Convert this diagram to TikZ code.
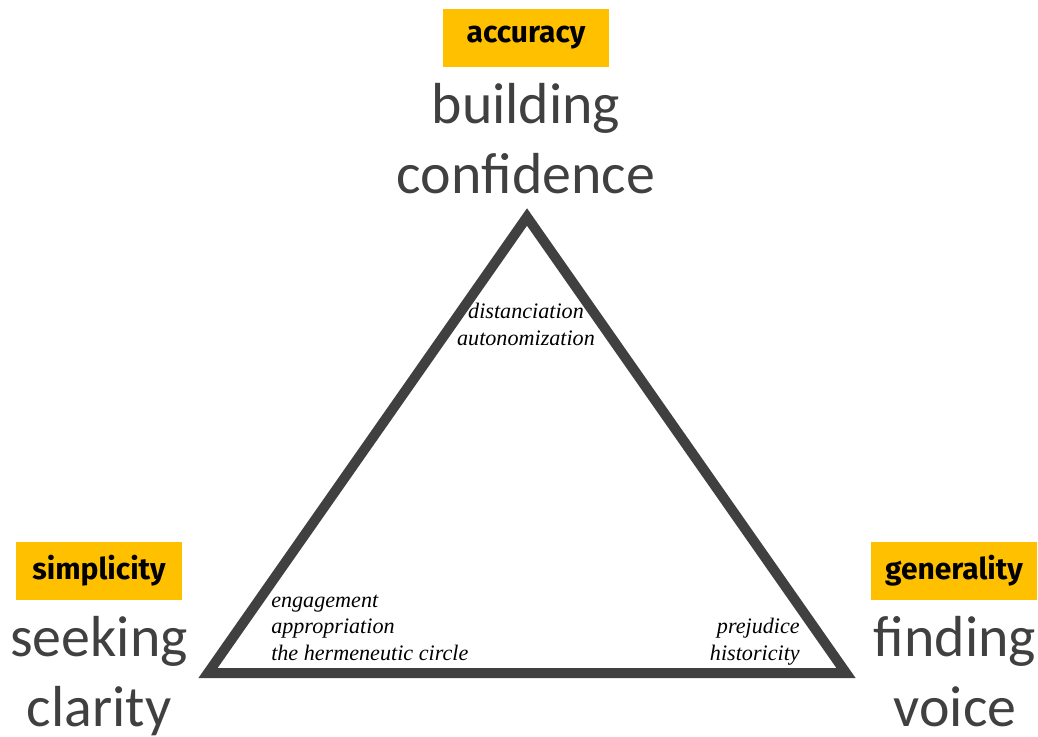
\documentclass[tikz,border=0pt]{standalone}
\usepackage{fontspec}
\usepackage{tikz}
\usetikzlibrary{positioning}
\newfontfamily\bigfont{Carlito}
\newfontfamily\notefont{Liberation Serif}
\newfontfamily\tagfont{Fira Sans}
\definecolor{tagyellow}{HTML}{FFC000}
\definecolor{darkgray}{HTML}{404040}

\begin{document}
\begin{tikzpicture}[x=0.75pt,y=-0.75pt,
    tag/.style = {fill=tagyellow, text=black, minimum width=124pt, minimum height=44pt,
                  inner sep=0pt, font=\tagfont\bfseries\fontsize{22.5}{26}\selectfont},
    big/.style = {text=darkgray, align=center, inner sep=0pt, anchor=base,
                  font=\bigfont\fontsize{43.4}{52}\selectfont},
    note/.style = {text=black, inner sep=0pt, anchor=base,
                   font=\notefont\itshape\fontsize{16.6}{19.8}\selectfont}]

        \useasboundingbox (0,0) rectangle (1038,736);

        % corners of the triangle
        \coordinate (t) at (527,217);
        \coordinate (l) at (208,673);
        \coordinate (r) at (846,673);

        \draw[darkgray, line width=7.5pt, line join=miter] (t) -- (l) -- (r) -- cycle;

        \node[tag] (acc) at (526,38) {accuracy};
        \node[tag] (sim) at (99,571) {simplicity};
        \node[tag] (gen) at (954,571) {generality};

        % base of a multi-line node sits on its last line
        \node[big] (conf) at (526,193) {building\\confidence};
        \node[big] (clar) at (99,726) {seeking\\clarity};
        \node[big] (voice) at (955,726) {finding\\voice};

        \node[note, align=center] (dist) at (526,345) {distanciation\\autonomization};
        \node[note, align=left, anchor=base west] (eng) at (271,660) {engagement\\appropriation\\the hermeneutic circle};
        \node[note, align=right, anchor=base east] (prej) at (800,660) {prejudice\\historicity};

\end{tikzpicture}
\end{document}
